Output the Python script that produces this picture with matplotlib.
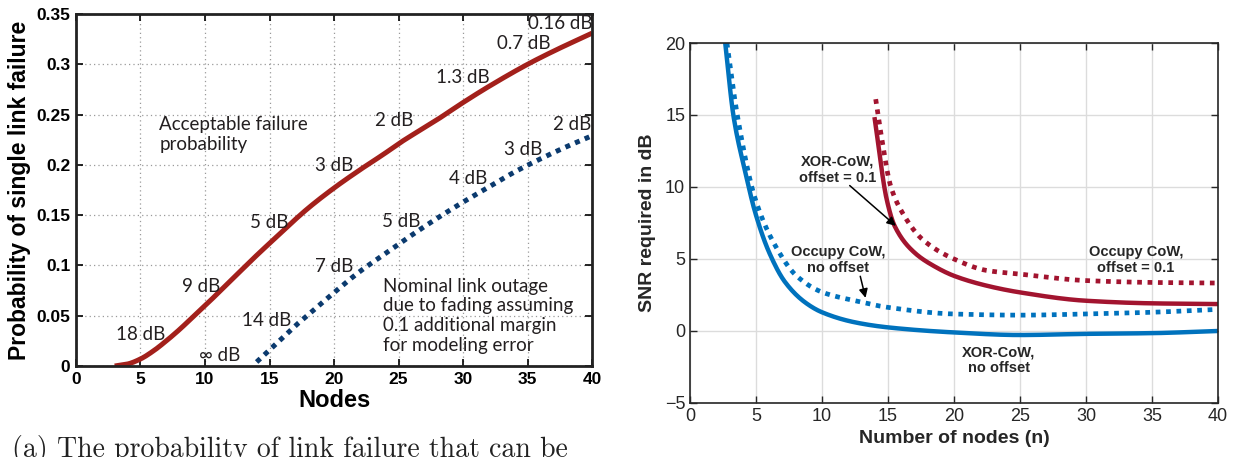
import numpy as np
import matplotlib
matplotlib.use('Agg')
from matplotlib import pyplot as plt

# ---- left panel data
nodes_accept = [3, 4, 5, 6, 7, 8, 9, 10, 12, 14, 15, 16, 18, 20, 22, 24, 25, 28, 30, 32, 35, 37, 40]
p_accept = [0.0, 0.002, 0.007, 0.015, 0.025, 0.036, 0.048, 0.060, 0.085, 0.110, 0.122, 0.134,
            0.157, 0.177, 0.195, 0.212, 0.221, 0.245, 0.262, 0.278, 0.300, 0.313, 0.331]
nodes_outage = [14, 15, 16, 17, 18, 20, 22, 24, 26, 28, 30, 32, 34, 36, 38, 40]
p_outage = [0.004, 0.016, 0.028, 0.040, 0.051, 0.073, 0.094, 0.112, 0.130, 0.147, 0.163,
            0.178, 0.193, 0.206, 0.218, 0.229]
red_labels = ['0.16 dB', '0.7 dB', '1.3 dB', '2 dB', '3 dB', '5 dB', '9 dB', '18 dB', '∞ dB']
red_label_xy = [(35.0, 0.341), (32.6, 0.321), (27.9, 0.287), (23.2, 0.244), (18.5, 0.199),
                (13.5, 0.143), (8.2, 0.079), (3.1, 0.031), (9.5, 0.010)]
blue_labels = ['2 dB', '3 dB', '4 dB', '5 dB', '7 dB', '14 dB']
blue_label_xy = [(37.0, 0.240), (33.2, 0.215), (28.9, 0.186), (23.7, 0.144), (18.5, 0.099), (12.9, 0.045)]

# ---- right panel data
n_xor = [2.67, 3.3, 4.2, 4.95, 6, 7.2, 8.7, 10, 12.5, 15, 20, 25, 30, 35, 40]
snr_xor = [20, 14.9, 11, 8.2, 5.45, 3.4, 2.0, 1.3, 0.6, 0.25, -0.1, -0.28, -0.2, -0.15, 0.0]
n_occ = [2.8, 3.6, 4.95, 6.6, 8.07, 10, 12.5, 15, 20, 25, 30, 35, 40]
snr_occ = [20, 14.9, 9.15, 5.7, 3.83, 2.7, 2.1, 1.64, 1.18, 1.1, 1.18, 1.3, 1.5]
n_xor_off = [14, 14.9, 15.5, 17, 18.5, 20, 22.5, 25, 30, 35, 40]
snr_xor_off = [14.7, 9.15, 7.3, 5.45, 4.5, 3.83, 3.14, 2.68, 2.1, 1.92, 1.87]
n_occ_off = [14.07, 14.45, 15.2, 16.1, 17.6, 20, 22.5, 25, 30, 35, 40]
snr_occ_off = [16.1, 13.8, 10.07, 8.2, 6.37, 5.0, 4.2, 3.95, 3.5, 3.37, 3.33]


def pchip(x, y, n=400):
    # monotone cubic through the read points
    x = np.asarray(x, float)
    y = np.asarray(y, float)
    h = np.diff(x)
    d = np.diff(y) / h
    m = np.zeros_like(y)
    m[0], m[-1] = d[0], d[-1]
    for k in range(1, len(x) - 1):
        if d[k - 1] * d[k] > 0:
            w1 = 2 * h[k] + h[k - 1]
            w2 = h[k] + 2 * h[k - 1]
            m[k] = (w1 + w2) / (w1 / d[k - 1] + w2 / d[k])
    xs = np.linspace(x[0], x[-1], n)
    idx = np.clip(np.searchsorted(x, xs) - 1, 0, len(x) - 2)
    t = (xs - x[idx]) / h[idx]
    h00 = 2 * t**3 - 3 * t**2 + 1
    h10 = t**3 - 2 * t**2 + t
    h01 = -2 * t**3 + 3 * t**2
    h11 = t**3 - t**2
    ys = h00 * y[idx] + h10 * h[idx] * m[idx] + h01 * y[idx + 1] + h11 * h[idx] * m[idx + 1]
    return xs, ys


fig = plt.figure(figsize=(12.35, 4.57), dpi=100)

red = '#A3201B'
navy = '#0B3A6E'
bold_font = 'Liberation Sans'
note_font = 'Lato'

# ================= left panel
ax1 = fig.add_axes([0.0615, 0.1991, 0.418, 0.7703])
xs, ys = pchip(nodes_accept, p_accept)
ax1.plot(xs, ys, color=red, lw=3.6, solid_capstyle='butt')
xs, ys = pchip(nodes_outage, p_outage)
ax1.plot(xs, ys, color=navy, lw=3.6, linestyle=(0, (1, 1.1)), dash_capstyle='butt')
ax1.set_xlim(0, 40)
ax1.set_ylim(0, 0.35)
ax1.set_xticks(range(0, 41, 5))
ax1.set_yticks(np.arange(0, 0.351, 0.05))
ax1.set_yticklabels(['0', '0.05', '0.1', '0.15', '0.2', '0.25', '0.3', '0.35'])
ax1.grid(True, linestyle=(0, (1, 2.5)), color='#9a9a9a', lw=0.9)
ax1.tick_params(direction='in', top=True, right=True, length=5, width=1.2, pad=4,
                labelsize=12.5)
for lab in ax1.get_xticklabels() + ax1.get_yticklabels():
    lab.set_fontfamily(bold_font)
    lab.set_fontweight('bold')
for s in ax1.spines.values():
    s.set_linewidth(2.0)
    s.set_color('#222222')
ax1.set_xlabel('Nodes', fontsize=17, fontweight='bold', family=bold_font, labelpad=2)
ax1.set_ylabel('Probability of single link failure', fontsize=16.5, fontweight='bold',
               family=bold_font, labelpad=4)
for t, (x, y) in zip(red_labels, red_label_xy):
    ax1.text(x, y, t, fontsize=13.5, family=[note_font, 'DejaVu Sans'], va='center', ha='left',
             color='#231f20', clip_on=False)
for t, (x, y) in zip(blue_labels, blue_label_xy):
    ax1.text(x, y, t, fontsize=13.5, family=note_font, va='center', ha='left', color='#231f20',
             clip_on=False)
ax1.text(6.45, 0.230, 'Acceptable failure\nprobability', fontsize=13.5, family=note_font,
         va='center', ha='left', color='#231f20', linespacing=1.25)
ax1.text(23.8, 0.050, 'Nominal link outage\ndue to fading assuming\n0.1 additional margin\n'
         'for modeling error', fontsize=13.5, family=note_font, va='center', ha='left',
         color='#231f20', linespacing=1.2)

fig.text(0.01, 0.048, '(a) The probability of link failure that can be', family='cmr10',
         fontsize=20, va='top', ha='left', color='#222222')

# ================= right panel
blue = '#0072BD'
crim = '#A2142F'
ax2 = fig.add_axes([0.5587, 0.1182, 0.4275, 0.7877])
xs, ys = pchip(n_xor, snr_xor)
ax2.plot(xs, ys, color=blue, lw=3.2)
xs, ys = pchip(n_occ, snr_occ)
ax2.plot(xs, ys, color=blue, lw=3.4, linestyle=(0, (1, 1.2)))
xs, ys = pchip(n_xor_off, snr_xor_off)
ax2.plot(xs, ys, color=crim, lw=3.2)
xs, ys = pchip(n_occ_off, snr_occ_off)
ax2.plot(xs, ys, color=crim, lw=3.4, linestyle=(0, (1, 1.2)))
ax2.set_xlim(0, 40)
ax2.set_ylim(-5, 20)
ax2.set_xticks(range(0, 41, 5))
ax2.set_yticks(range(-5, 21, 5))
ax2.grid(True, color='#dcdcdc', lw=1.0)
ax2.set_axisbelow(True)
ax2.tick_params(direction='in', top=True, right=True, length=5, width=1.0, labelsize=13,
                colors='#262626')
for lab in ax2.get_xticklabels() + ax2.get_yticklabels():
    lab.set_fontfamily(bold_font)
for s in ax2.spines.values():
    s.set_linewidth(1.2)
    s.set_color('#262626')
ax2.set_xlabel('Number of nodes (n)', fontsize=14, fontweight='bold', family=bold_font,
               color='#262626', labelpad=4)
ax2.set_ylabel('SNR required in dB', fontsize=14, fontweight='bold', family=bold_font,
               color='#262626', labelpad=6)

note_kw = dict(fontsize=10.5, fontweight='bold', family=bold_font, ha='center', va='center',
               color='#262626', linespacing=1.15)
arrow_kw = dict(arrowstyle='-|>', color='black', lw=1.1, shrinkA=0, shrinkB=0, mutation_scale=13)
ax2.text(11.2, 11.2, 'XOR-CoW,\noffset = 0.1', **note_kw)
ax2.annotate('', xy=(15.6, 7.3), xytext=(12.1, 10.1), arrowprops=arrow_kw)
ax2.text(11.2, 4.94, 'Occupy CoW,\nno offset', **note_kw)
ax2.annotate('', xy=(13.3, 2.3), xytext=(12.9, 3.8), arrowprops=arrow_kw)
ax2.text(33.8, 4.94, 'Occupy CoW,\noffset = 0.1', **note_kw)
ax2.text(23.4, -2.05, 'XOR-CoW,\nno offset', **note_kw)

fig.savefig('out.png', dpi=100)
